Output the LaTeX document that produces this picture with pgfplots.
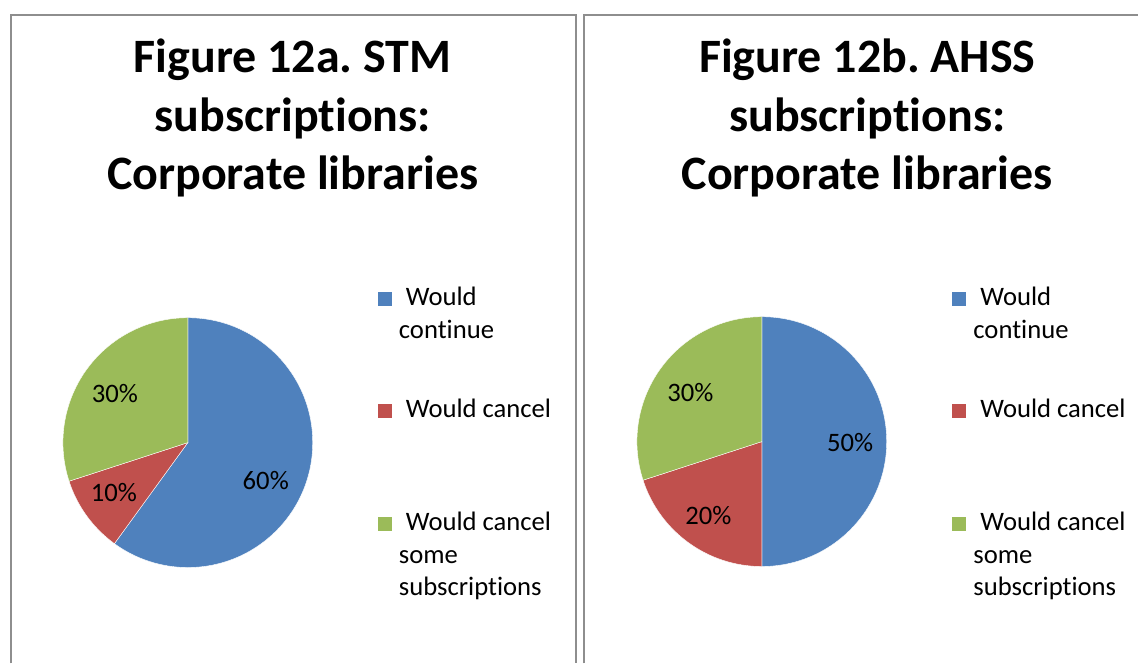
\documentclass[border=0pt]{standalone}
\usepackage{pgfplots}
\pgfplotsset{compat=1.18}
\usepackage{pgfplotstable}
\usepackage{fontspec}
\setmainfont{Carlito}[Ligatures=NoCommon]
\frenchspacing
\definecolor{cBlue}{HTML}{4F81BD}
\definecolor{cRed}{HTML}{C0504D}
\definecolor{cGreen}{HTML}{9BBB59}
\definecolor{frameGray}{HTML}{8E8E8E}

\pgfplotstableread{
category value
continue 60
cancel 10
some 30
}\stmdata
\pgfplotstableread{
category value
continue 50
cancel 20
some 30
}\ahssdata

\begin{document}
\begin{tikzpicture}
\pgfplotstablegetelem{0}{value}\of\stmdata \pgfmathsetmacro\sA{90-3.6*\pgfplotsretval}
\pgfplotstablegetelem{1}{value}\of\stmdata \pgfmathsetmacro\sB{\sA-3.6*\pgfplotsretval}
\pgfplotstablegetelem{2}{value}\of\stmdata \pgfmathsetmacro\sC{\sB-3.6*\pgfplotsretval}
\pgfplotstablegetelem{0}{value}\of\ahssdata \pgfmathsetmacro\hA{90-3.6*\pgfplotsretval}
\pgfplotstablegetelem{1}{value}\of\ahssdata \pgfmathsetmacro\hB{\hA-3.6*\pgfplotsretval}
\pgfplotstablegetelem{2}{value}\of\ahssdata \pgfmathsetmacro\hC{\hB-3.6*\pgfplotsretval}
\begin{axis}[width=854.25pt,height=498pt,scale only axis,
  xmin=0,xmax=1139,ymin=0,ymax=664,hide axis,clip=false]
\path (axis cs:0,0) rectangle (axis cs:1139,664);
% frames
\draw[frameGray,line width=1.5pt] (axis cs:11,0) -- (axis cs:11,649) -- (axis cs:577,649) -- (axis cs:577,0);
\draw[frameGray,line width=1.5pt] (axis cs:585,0) -- (axis cs:585,649) -- (axis cs:1139,649);
% titles
\tikzset{ttl/.style={anchor=base,inner sep=0pt,font=\fontsize{36pt}{43pt}\selectfont\bfseries},
  lg/.style={anchor=base west,inner sep=0pt,font=\fontsize{20pt}{24pt}\selectfont},
  pl/.style={anchor=center,inner sep=0pt,font=\fontsize{20pt}{24pt}\selectfont}}
\node[ttl] at (axis cs:293,591) {Figure 12a. STM};
\node[ttl] at (axis cs:293,532.5) {subscriptions:};
\node[ttl] at (axis cs:293,474) {Corporate libraries};
\node[ttl] at (axis cs:868,591) {Figure 12b. AHSS};
\node[ttl] at (axis cs:868,532.5) {subscriptions:};
\node[ttl] at (axis cs:868,474) {Corporate libraries};
% pie 1
\filldraw[fill=cBlue,draw=white,line width=0.3pt] (axis cs:188,221) -- ++(90:93.75pt) arc[start angle=90,end angle=\sA,radius=93.75pt] -- cycle;
\filldraw[fill=cRed,draw=white,line width=0.3pt] (axis cs:188,221) -- ++(\sA:93.75pt) arc[start angle=\sA,end angle=\sB,radius=93.75pt] -- cycle;
\filldraw[fill=cGreen,draw=white,line width=0.3pt] (axis cs:188,221) -- ++(\sB:93.75pt) arc[start angle=\sB,end angle=\sC,radius=93.75pt] -- cycle;
\node[pl] at (axis cs:266,183) {60\%};
\node[pl] at (axis cs:114,171) {10\%};
\node[pl] at (axis cs:115,270) {30\%};
% pie 2
\filldraw[fill=cBlue,draw=white,line width=0.3pt] (axis cs:762.5,222) -- ++(90:93.75pt) arc[start angle=90,end angle=\hA,radius=93.75pt] -- cycle;
\filldraw[fill=cRed,draw=white,line width=0.3pt] (axis cs:762.5,222) -- ++(\hA:93.75pt) arc[start angle=\hA,end angle=\hB,radius=93.75pt] -- cycle;
\filldraw[fill=cGreen,draw=white,line width=0.3pt] (axis cs:762.5,222) -- ++(\hB:93.75pt) arc[start angle=\hB,end angle=\hC,radius=93.75pt] -- cycle;
\node[pl] at (axis cs:851,221) {50\%};
\node[pl] at (axis cs:709,148) {20\%};
\node[pl] at (axis cs:691,271) {30\%};
% legend 1
\fill[cBlue] (axis cs:378,358) rectangle (axis cs:392,372);
\node[lg] at (axis cs:406,358) {Would};
\node[lg] at (axis cs:399,325) {continue};
\fill[cRed] (axis cs:378,246) rectangle (axis cs:392,260);
\node[lg] at (axis cs:406,246) {Would cancel};
\fill[cGreen] (axis cs:378,133) rectangle (axis cs:392,147);
\node[lg] at (axis cs:406,133) {Would cancel};
\node[lg] at (axis cs:399,100) {some};
\node[lg] at (axis cs:399,68) {subscriptions};
% legend 2
\fill[cBlue] (axis cs:953,358) rectangle (axis cs:967,372);
\node[lg] at (axis cs:981,358) {Would};
\node[lg] at (axis cs:974,325) {continue};
\fill[cRed] (axis cs:953,246) rectangle (axis cs:967,260);
\node[lg] at (axis cs:981,246) {Would cancel};
\fill[cGreen] (axis cs:953,133) rectangle (axis cs:967,147);
\node[lg] at (axis cs:981,133) {Would cancel};
\node[lg] at (axis cs:974,100) {some};
\node[lg] at (axis cs:974,68) {subscriptions};
\end{axis}
\end{tikzpicture}
\end{document}
